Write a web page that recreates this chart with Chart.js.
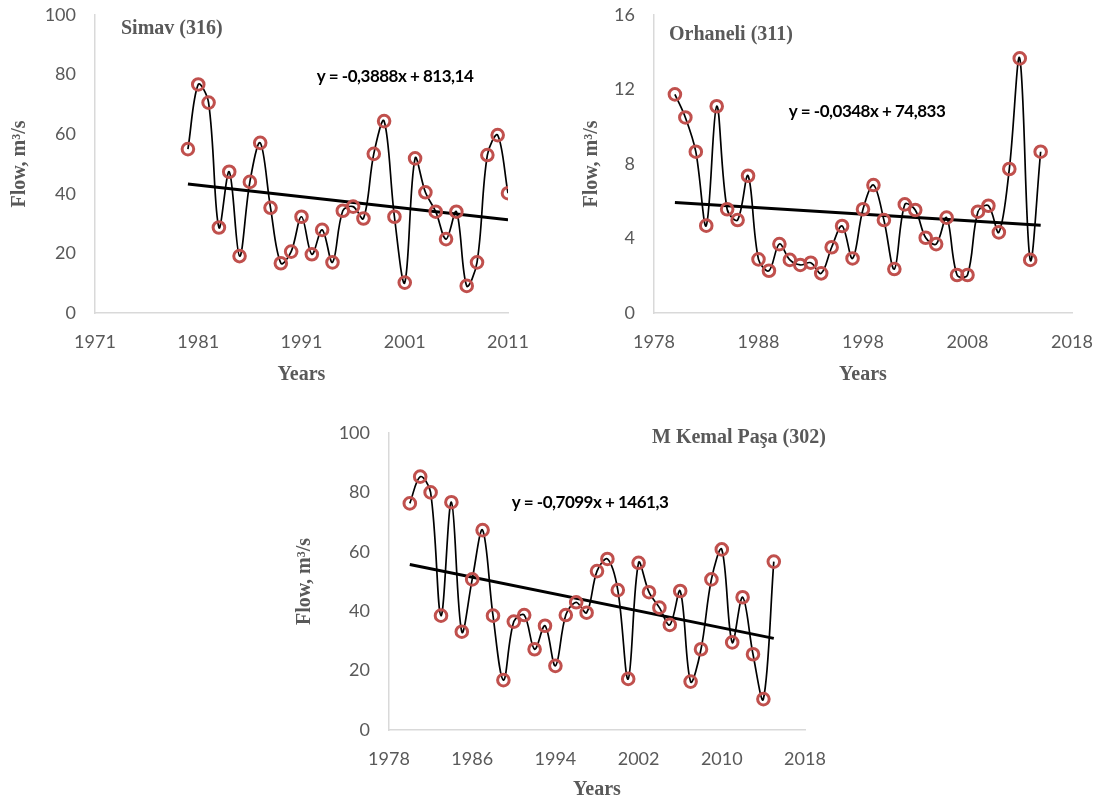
<!DOCTYPE html>
<html lang="en">
<head>
<meta charset="UTF-8">
<title>Flow trends</title>
<script src="https://cdn.jsdelivr.net/npm/chart.js@4.4.0/dist/chart.umd.min.js"></script>
<style>
    body { margin: 0; background: #ffffff; width: 1117px; height: 803px; position: relative; overflow: hidden; }
    canvas { position: absolute; }
</style>
</head>
<body>
<canvas id="simav" width="540" height="395" style="left:0px;top:0px"></canvas>
<canvas id="orhaneli" width="547" height="395" style="left:570px;top:0px"></canvas>
<canvas id="kemal" width="560" height="385" style="left:280px;top:418px"></canvas>

<script>
// Simav (316)
const simavYears = [1980, 1981, 1982, 1983, 1984, 1985, 1986, 1987, 1988, 1989, 1990, 1991, 1992, 1993, 1994, 1995,
    1996, 1997, 1998, 1999, 2000, 2001, 2002, 2003, 2004, 2005, 2006, 2007, 2008, 2009, 2010, 2011];
const simavFlow = [55, 76.7, 70.6, 28.7, 47.4, 19.1, 44, 57.1, 35.3, 16.7, 20.6, 32.3, 19.7, 27.9, 17, 34.3,
    35.7, 31.7, 53.4, 64.4, 32.3, 10.2, 51.9, 40.5, 34, 24.8, 34, 9.1, 17, 53, 59.7, 40.2];
const simavTrend = [-0.3888, 813.14];

// Orhaneli (311) and M Kemal Paşa (302)
const laterYears = [1980, 1981, 1982, 1983, 1984, 1985, 1986, 1987, 1988, 1989, 1990, 1991, 1992, 1993, 1994, 1995,
    1996, 1997, 1998, 1999, 2000, 2001, 2002, 2003, 2004, 2005, 2006, 2007, 2008, 2009, 2010, 2011,
    2012, 2013, 2014, 2015];
const orhaneliFlow = [11.74, 10.5, 8.66, 4.69, 11.1, 5.57, 4.99, 7.37, 2.88, 2.27, 3.7, 2.85, 2.58, 2.7, 2.13, 3.53,
    4.67, 2.93, 5.57, 6.87, 4.99, 2.36, 5.83, 5.53, 4.04, 3.7, 5.12, 2.04, 2.04, 5.44, 5.76, 4.33,
    7.73, 13.67, 2.85, 8.66];
const orhaneliTrend = [-0.0348, 74.833];
const kemalFlow = [76.3, 85.3, 80, 38.5, 76.7, 33.1, 50.7, 67.3, 38.5, 16.8, 36.5, 38.7, 27.2, 35.1, 21.6, 38.7,
    43, 39.5, 53.5, 57.6, 47.1, 17.2, 56.3, 46.4, 41.2, 35.4, 46.8, 16.3, 27.2, 50.7, 60.8, 29.5,
    44.7, 25.5, 10.4, 56.7];
const kemalTrend = [-0.7099, 1461.3];

const simavXTicks = [1971, 2011, 10];
const laterXTicks = [1978, 2018, 10];
const kemalXTicks = [1978, 2018, 8];

const grey = '#595959';
const serifBold = { family: '"Liberation Serif", "Times New Roman", serif', size: 20, weight: 'bold' };

// draws station name and trend equation as canvas text
const labelsPlugin = {
    id: 'labels',
    afterDraw(chart, args, opts) {
        const ctx = chart.ctx;
        ctx.save();
        ctx.textBaseline = 'middle';
        ctx.fillStyle = grey;
        ctx.font = 'bold 20px "Liberation Serif", "Times New Roman", serif';
        ctx.textAlign = 'left';
        ctx.fillText(opts.title, opts.titleX, opts.titleY);
        ctx.fillStyle = '#000000';
        ctx.font = 'bold 17px Lato, sans-serif';
        ctx.letterSpacing = '-0.5px';
        ctx.textAlign = 'center';
        ctx.fillText(opts.equation, opts.eqX, opts.eqY);
        ctx.restore();
    }
};

function fmt(n) {
    return String(n).replace('.', ',');
}

function makeChart(id, years, flow, trend, xTicks, yMax, yStep, lay) {
    const points = years.map((yr, i) => ({ x: yr, y: flow[i] }));
    const first = years[0], last = years[years.length - 1];
    const trendPts = [
        { x: first, y: trend[0] * first + trend[1] },
        { x: last, y: trend[0] * last + trend[1] }
    ];
    const eq = 'y = ' + fmt(trend[0]) + 'x + ' + fmt(trend[1]);

    return new Chart(document.getElementById(id), {
        type: 'line',
        data: {
            datasets: [{
                data: points,
                borderColor: '#000000',
                borderWidth: 1.7,
                tension: 0.35,
                pointRadius: 5.8,
                pointBorderWidth: 3,
                pointBorderColor: '#c0504d',
                pointBackgroundColor: 'rgba(0,0,0,0)'
            }, {
                data: trendPts,
                borderColor: '#000000',
                borderWidth: 3,
                pointRadius: 0,
                tension: 0
            }]
        },
        options: {
            responsive: false,
            animation: false,
            layout: { padding: { top: lay.padTop, right: lay.padRight, bottom: 0, left: 0 } },
            plugins: {
                legend: { display: false },
                tooltip: { enabled: false },
                labels: {
                    title: lay.title, titleX: lay.titleX, titleY: lay.titleY,
                    equation: eq, eqX: lay.eqX, eqY: lay.eqY
                }
            },
            scales: {
                x: {
                    type: 'linear',
                    min: xTicks[0],
                    max: xTicks[1],
                    grid: { display: false, drawTicks: false },
                    border: { display: true, color: '#d9d9d9', width: 1.5 },
                    ticks: {
                        stepSize: xTicks[2],
                        padding: 18,
                        color: grey,
                        font: { family: 'Lato, sans-serif', size: 18 },
                        callback: v => String(v)
                    },
                    title: {
                        display: true,
                        text: 'Years',
                        color: grey,
                        font: serifBold,
                        padding: { top: 0, bottom: lay.yearsPad }
                    },
                    afterFit: s => {
                        s.height = lay.xHeight;
                        s.paddingLeft = 0;
                        s.paddingRight = 0;
                    }
                },
                y: {
                    min: 0,
                    max: yMax,
                    grid: { display: false, drawTicks: false },
                    border: { display: true, color: '#d9d9d9', width: 1.5 },
                    ticks: {
                        stepSize: yStep,
                        padding: 19,
                        color: grey,
                        font: { family: 'Lato, sans-serif', size: 18 }
                    },
                    title: {
                        display: true,
                        text: 'Flow, m³/s',
                        color: grey,
                        font: serifBold,
                        padding: { top: lay.flowPad, bottom: 0 }
                    },
                    afterFit: s => {
                        s.width = lay.yWidth;
                        s.paddingTop = 0;
                        s.paddingBottom = 0;
                    }
                }
            }
        },
        plugins: [labelsPlugin]
    });
}

makeChart('simav', simavYears, simavFlow, simavTrend, simavXTicks, 100, 20, {
    padTop: 15, padRight: 32, xHeight: 82, yWidth: 95, flowPad: 8, yearsPad: 8,
    title: 'Simav (316)', titleX: 121, titleY: 29, eqX: 395, eqY: 77
});

makeChart('orhaneli', laterYears, orhaneliFlow, orhaneliTrend, laterXTicks, 16, 4, {
    padTop: 15, padRight: 45, xHeight: 82, yWidth: 84, flowPad: 10, yearsPad: 8,
    title: 'Orhaneli (311)', titleX: 99, titleY: 35, eqX: 297, eqY: 112
});

makeChart('kemal', laterYears, kemalFlow, kemalTrend, kemalXTicks, 100, 20, {
    padTop: 15, padRight: 35, xHeight: 73, yWidth: 109, flowPad: 13, yearsPad: 1,
    title: 'M Kemal Paşa (302)', titleX: 372, titleY: 20, eqX: 310, eqY: 85
});
</script>
</body>
</html>
